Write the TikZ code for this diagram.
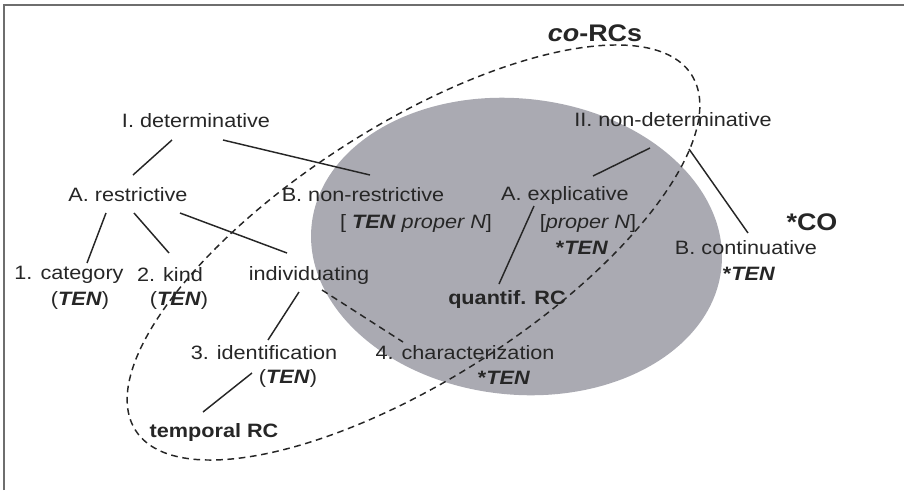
\documentclass[tikz,border=0pt]{standalone}
\usepackage{fontspec}
\setmainfont{Liberation Sans}[FakeStretch=1.12]
\usetikzlibrary{calc}
\definecolor{blobgray}{RGB}{170,170,178}
\definecolor{ink}{RGB}{38,38,38}
\definecolor{framegray}{RGB}{110,110,110}
\newcommand{\ten}{\textbf{\textit{TEN}}}
\begin{document}
\begin{tikzpicture}[x=0.75pt,y=-0.75pt,
  lbl/.style={text=ink,inner sep=0pt,font=\fontsize{14.5}{17}\selectfont},
  big/.style={text=ink,inner sep=0pt,font=\fontsize{18}{21}\selectfont\bfseries},
  conn/.style={draw=ink,line width=1.1pt},
  dconn/.style={draw=ink,line width=1.1pt,dash pattern=on 5pt off 3.5pt}]
\useasboundingbox (0,0) rectangle (904,490);
\draw[framegray,line width=1.2pt] (4,490) -- (4,5) -- (904,5);
% gray ellipse
\fill[blobgray,shift={(516.5,246.5)},rotate=-6] (0,0) ellipse [x radius=206, y radius=148];
% dashed ellipse
\draw[dconn,shift={(413.5,252.5)},rotate=32.6] (0,0) ellipse [x radius=330, y radius=127];
% nodes
\node[big] (corcs) at (595,33) {\textit{co}-RCs};
\node[lbl] (idet) at (196,121) {I. determinative};
\node[lbl] (iinon) at (673,120) {II. non-determinative};
\node[lbl] (arestr) at (128,195) {A. restrictive};
\node[lbl] (bnonr) at (363,195) {B. non-restrictive};
\node[lbl] (bnonrx) at (416,223) {[ \ten{} \textit{proper N}]};
\node[lbl] (aexpl) at (565,195) {A. explicative};
\node[lbl] (aexplx) at (588,223) {[\textit{proper N}]};
\node[lbl] (aexply) at (582,248) {\textbf{*}\ten};
\node[big] (co) at (812,222) {*CO};
\node[lbl] (bcont) at (746,248) {B. continuative};
\node[lbl] (bcontx) at (749,274) {\textbf{*}\ten};
\node[lbl] (cat) at (69,275) {1. category};
\node[lbl] (catx) at (80,300) {(\ten)};
\node[lbl] (kind) at (170,275) {2. kind};
\node[lbl] (kindx) at (179,300) {(\ten)};
\node[lbl] (indiv) at (309,275) {individuating};
\node[lbl,font=\fontsize{14.5}{17}\selectfont\bfseries] (quant) at (507,299) {quantif. RC};
\node[lbl] (ident) at (264,353) {3. identification};
\node[lbl] (identx) at (288,378) {(\ten)};
\node[lbl] (charac) at (465,353) {4. characterization};
\node[lbl] (characx) at (504,378) {\textbf{*}\ten};
\node[lbl,font=\fontsize{14.5}{17}\selectfont\bfseries] (temp) at (214,432) {temporal RC};
% connectors
\draw[conn] ($(idet)+(-24,19)$) -- ($(arestr)+(5,-20)$);
\draw[conn] ($(idet)+(27,19)$) -- ($(bnonr)+(7,-20)$);
\draw[conn] ($(arestr)+(-22,18)$) -- ($(cat)+(18,-12)$);
\draw[conn] ($(arestr)+(6,18)$) -- ($(kind)+(-1,-22)$);
\draw[conn] ($(arestr)+(52,18)$) -- ($(indiv)+(-22,-22)$);
\draw[conn] ($(indiv)+(-10,17)$) -- ($(ident)+(4,-13)$);
\draw[dconn] ($(indiv)+(13,15)$) -- ($(charac)+(-62,-11)$);
\draw[conn] ($(identx)+(-36,-5)$) -- ($(temp)+(-11,-20)$);
\draw[conn] ($(iinon)+(-23,28)$) -- ($(aexpl)+(28,-19)$);
\draw[conn] ($(iinon)+(16,29)$) -- ($(bcont)+(2,-15)$);
\draw[conn] ($(aexpl)+(-31,11)$) -- ($(quant)+(-8,-15)$);
\end{tikzpicture}
\end{document}
